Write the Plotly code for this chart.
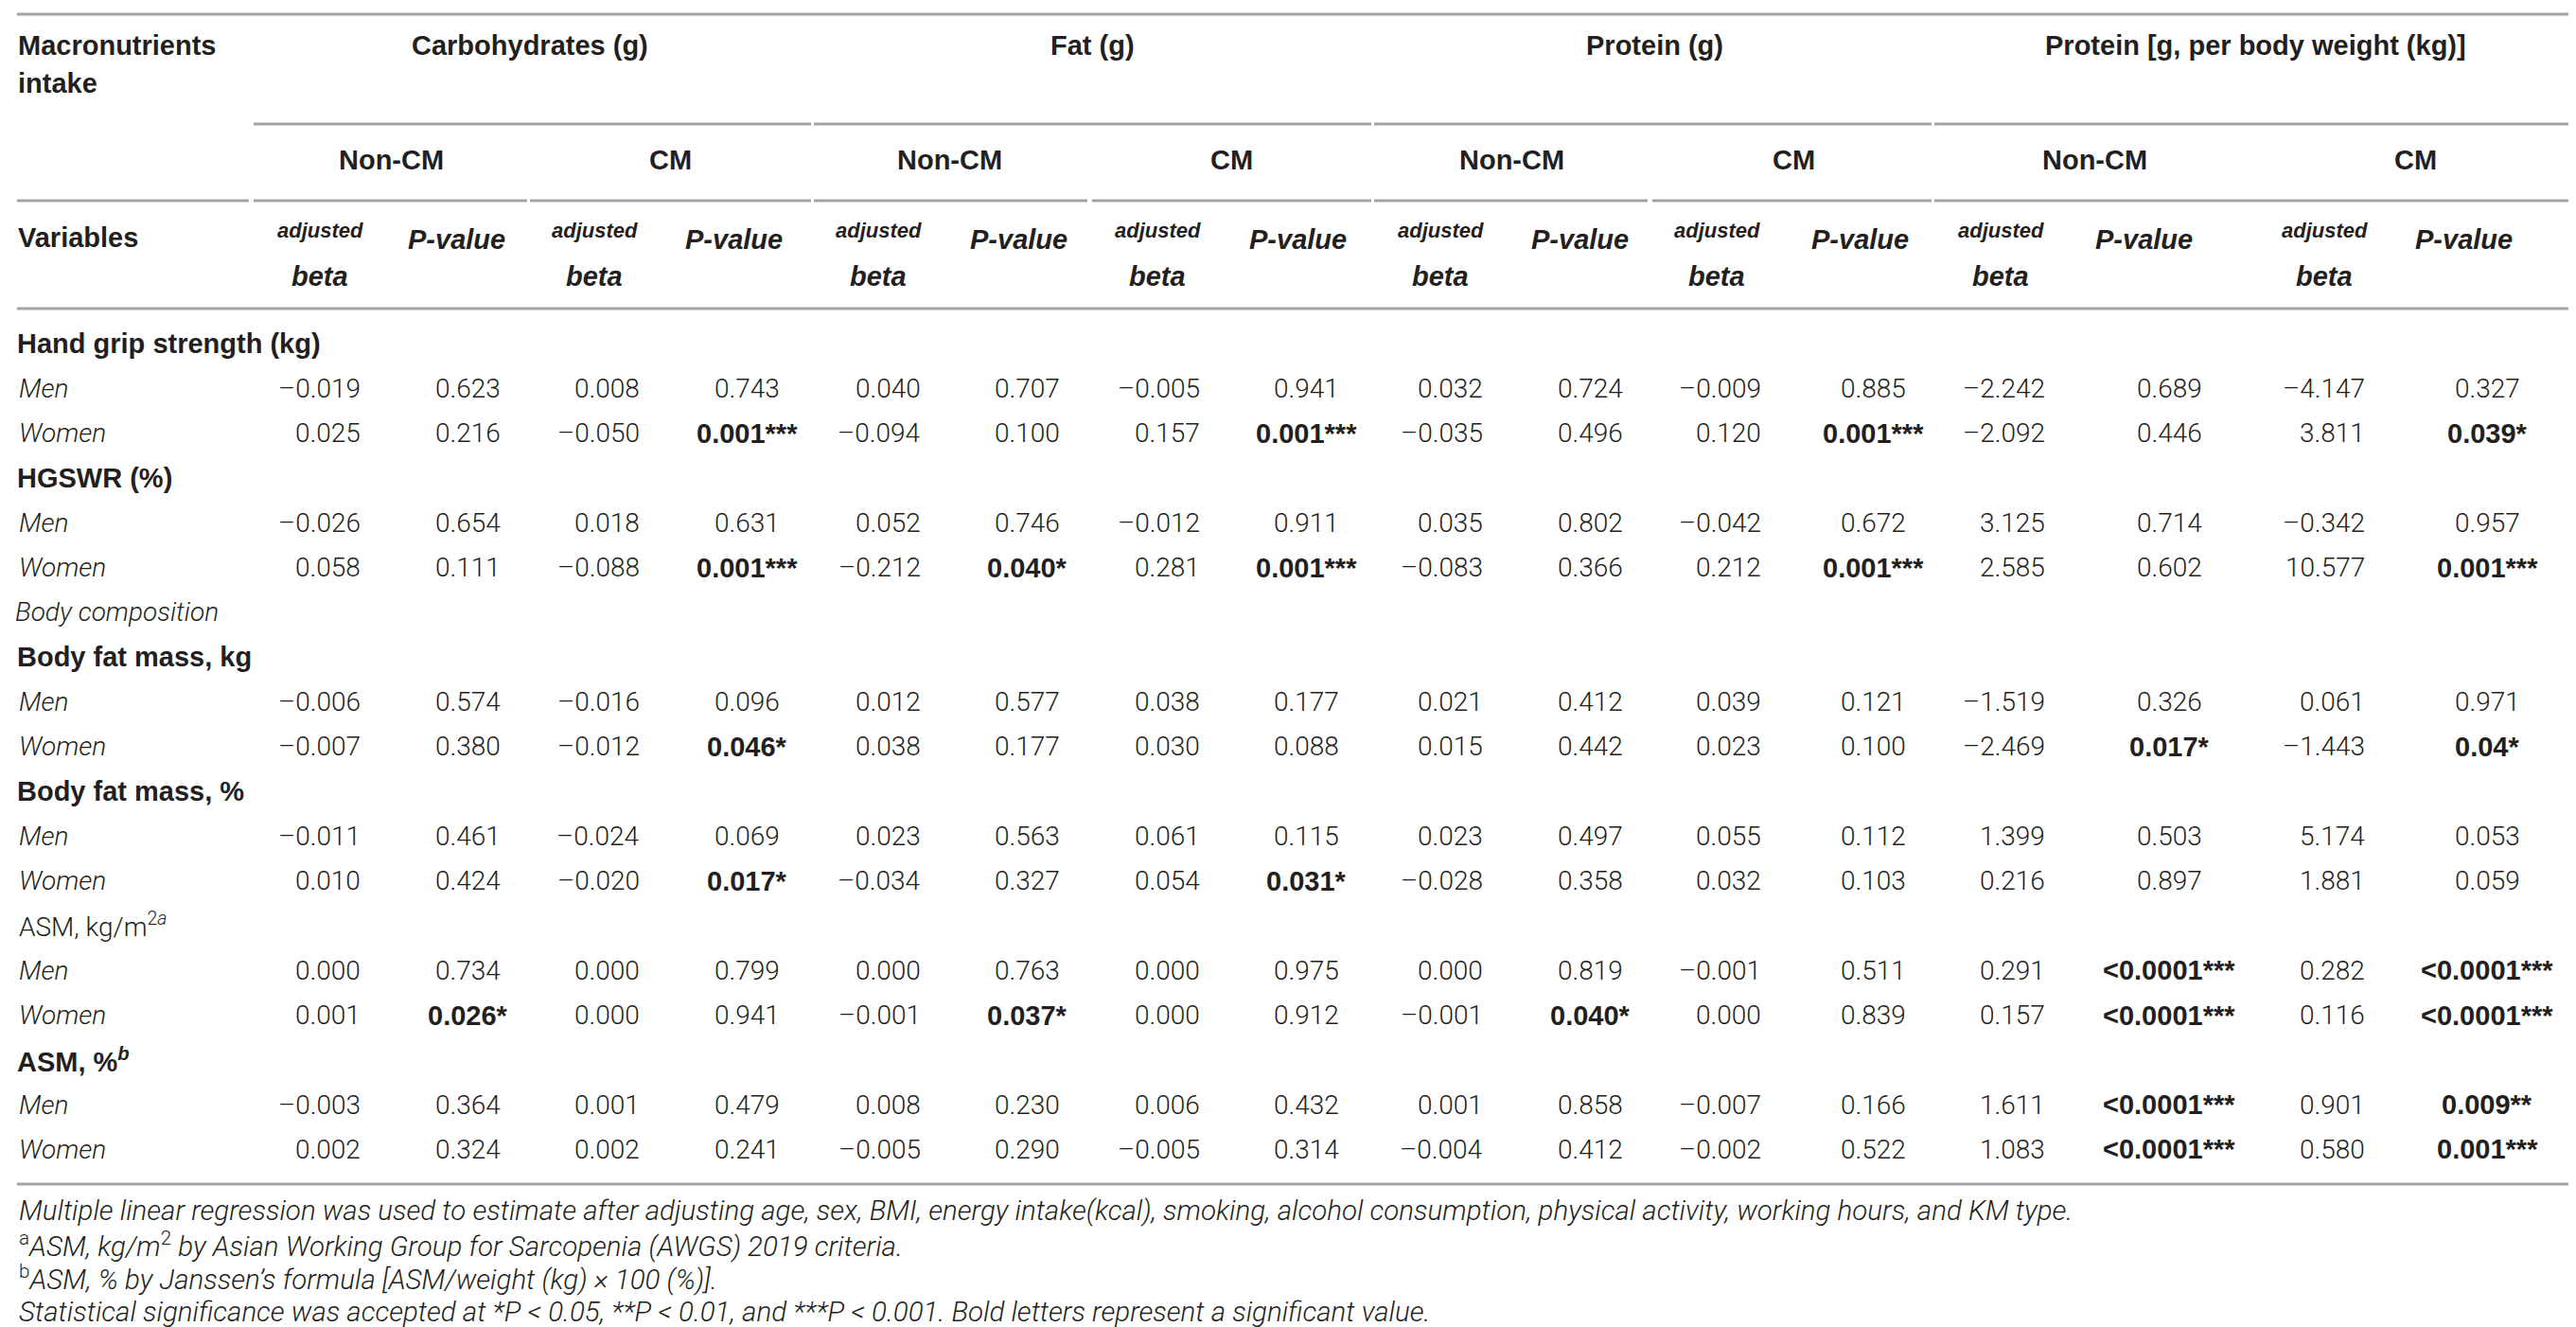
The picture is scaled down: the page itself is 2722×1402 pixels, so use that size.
import plotly.graph_objects as go

# ---- table content ----
nutrients = ["Carbohydrates (g)", "Fat (g)", "Protein (g)", "Protein [g, per body weight (kg)]"]
groups = ["Non-CM", "CM"]
stat_cols = ["adjusted<br>beta", "P-value"]

# each row: beta, p for Carb NonCM, Carb CM, Fat NonCM, Fat CM, Prot NonCM, Prot CM, Prot/bw NonCM, Prot/bw CM
hgs_men = ["–0.019", "0.623", "0.008", "0.743", "0.040", "0.707", "–0.005", "0.941",
           "0.032", "0.724", "–0.009", "0.885", "–2.242", "0.689", "–4.147", "0.327"]
hgs_women = ["0.025", "0.216", "–0.050", "0.001***", "–0.094", "0.100", "0.157", "0.001***",
             "–0.035", "0.496", "0.120", "0.001***", "–2.092", "0.446", "3.811", "0.039*"]
hgswr_men = ["–0.026", "0.654", "0.018", "0.631", "0.052", "0.746", "–0.012", "0.911",
             "0.035", "0.802", "–0.042", "0.672", "3.125", "0.714", "–0.342", "0.957"]
hgswr_women = ["0.058", "0.111", "–0.088", "0.001***", "–0.212", "0.040*", "0.281", "0.001***",
               "–0.083", "0.366", "0.212", "0.001***", "2.585", "0.602", "10.577", "0.001***"]
bfm_kg_men = ["–0.006", "0.574", "–0.016", "0.096", "0.012", "0.577", "0.038", "0.177",
              "0.021", "0.412", "0.039", "0.121", "–1.519", "0.326", "0.061", "0.971"]
bfm_kg_women = ["–0.007", "0.380", "–0.012", "0.046*", "0.038", "0.177", "0.030", "0.088",
                "0.015", "0.442", "0.023", "0.100", "–2.469", "0.017*", "–1.443", "0.04*"]
bfm_pct_men = ["–0.011", "0.461", "–0.024", "0.069", "0.023", "0.563", "0.061", "0.115",
               "0.023", "0.497", "0.055", "0.112", "1.399", "0.503", "5.174", "0.053"]
bfm_pct_women = ["0.010", "0.424", "–0.020", "0.017*", "–0.034", "0.327", "0.054", "0.031*",
                 "–0.028", "0.358", "0.032", "0.103", "0.216", "0.897", "1.881", "0.059"]
asm_kg_men = ["0.000", "0.734", "0.000", "0.799", "0.000", "0.763", "0.000", "0.975",
              "0.000", "0.819", "–0.001", "0.511", "0.291", "<0.0001***", "0.282", "<0.0001***"]
asm_kg_women = ["0.001", "0.026*", "0.000", "0.941", "–0.001", "0.037*", "0.000", "0.912",
                "–0.001", "0.040*", "0.000", "0.839", "0.157", "<0.0001***", "0.116", "<0.0001***"]
asm_pct_men = ["–0.003", "0.364", "0.001", "0.479", "0.008", "0.230", "0.006", "0.432",
               "0.001", "0.858", "–0.007", "0.166", "1.611", "<0.0001***", "0.901", "0.009**"]
asm_pct_women = ["0.002", "0.324", "0.002", "0.241", "–0.005", "0.290", "–0.005", "0.314",
                 "–0.004", "0.412", "–0.002", "0.522", "1.083", "<0.0001***", "0.580", "0.001***"]

# (label, style) then the data rows under it
rows = [
    ("Hand grip strength (kg)", "bold"),
    ("Men", hgs_men), ("Women", hgs_women),
    ("HGSWR (%)", "bold"),
    ("Men", hgswr_men), ("Women", hgswr_women),
    ("Body composition", "italic"),
    ("Body fat mass, kg", "bold"),
    ("Men", bfm_kg_men), ("Women", bfm_kg_women),
    ("Body fat mass, %", "bold"),
    ("Men", bfm_pct_men), ("Women", bfm_pct_women),
    ("ASM, kg/m<sup>2<i>a</i></sup>", "light"),
    ("Men", asm_kg_men), ("Women", asm_kg_women),
    ("ASM, %<sup><i>b</i></sup>", "bold"),
    ("Men", asm_pct_men), ("Women", asm_pct_women),
]

footnotes = [
    "Multiple linear regression was used to estimate after adjusting age, sex, BMI, energy intake(kcal), "
    "smoking, alcohol consumption, physical activity, working hours, and KM type.",
    "<sup>a</sup><i>ASM, kg/m</i><sup>2</sup><i> by Asian Working Group for Sarcopenia (AWGS) 2019 criteria.</i>",
    "<sup>b</sup><i>ASM, % by Janssen’s formula [ASM/weight (kg) × 100 (%)].</i>",
    "Statistical significance was accepted at *P < 0.05, **P < 0.01, and ***P < 0.001. "
    "Bold letters represent a significant value.",
]

# ---- layout (pixels) ----
W, H = 2722, 1402
INK = "#231f20"
RULE = "#a3a3a3"
LIGHT = "Roboto"
HEAVY = "Liberation Sans"
FS = 28      # light body text
FB = 29      # bold text
FN = 29.5    # footnotes

beta_right = [375, 670, 967, 1262, 1561, 1855, 2155, 2493]
p_center = [486, 781, 1077, 1372, 1672, 1971, 2284, 2620]
beta_head = [330, 620, 920, 1215, 1514, 1806, 2106, 2448]
p_head = [474, 767, 1068, 1363, 1661, 1957, 2257, 2595]
group_center = [405, 700, 995, 1293, 1589, 1887, 2205, 2544]
nutrient_center = [552, 1146, 1740, 2375]
row_y0, row_dy = 355, 47.3

fig = go.Figure()
ann = []


def txt(x, y, s, size=FS, family=LIGHT, weight=300, style="normal", xanchor="left"):
    ann.append(dict(x=x, y=y, xref="x", yref="y", text=s, showarrow=False,
                    xanchor=xanchor, yanchor="middle",
                    font=dict(family=family, size=size, color=INK, weight=weight, style=style)))


# header
txt(9, 40, "Macronutrients", size=FB, family=HEAVY, weight=700)
txt(9, 80, "intake", size=FB, family=HEAVY, weight=700)
for xc, name in zip(nutrient_center, nutrients):
    txt(xc, 40, name, size=FB, family=HEAVY, weight=700, xanchor="center")
for i, xc in enumerate(group_center):
    txt(xc, 161, groups[i % 2], size=FB, family=HEAVY, weight=700, xanchor="center")
txt(9, 243, "Variables", size=FB, family=HEAVY, weight=700)
adj, beta_word = stat_cols[0].split("<br>")
for xb, xp in zip(beta_head, p_head):
    txt(xb, 235, adj, size=22, family=HEAVY, weight=700, style="italic", xanchor="center")
    txt(xb, 284, beta_word, size=FB, family=HEAVY, weight=700, style="italic", xanchor="center")
    txt(xp, 245, stat_cols[1], size=FB, family=HEAVY, weight=700, style="italic", xanchor="center")

# body
for r, (label, content) in enumerate(rows):
    y = row_y0 + r * row_dy
    if isinstance(content, str):
        if content == "bold":
            txt(8, y, label, size=FB, family=HEAVY, weight=700)
        elif content == "italic":
            txt(6, y, label, style="italic")
        else:
            txt(10, y, label)
        continue
    txt(10, y, label, style="italic")
    for c in range(8):
        beta, p = content[2 * c], content[2 * c + 1]
        txt(beta_right[c], y, beta, xanchor="right")
        if "*" in p:
            txt(p_center[c], y, p, size=FB, family=HEAVY, weight=700, xanchor="center")
        else:
            txt(p_center[c], y, p, xanchor="center")

# footnotes
for k, note in enumerate(footnotes):
    txt(10, 1271 + k * 35.5, note, size=FN, style="normal" if "<i>" in note else "italic")

# rules
shapes = []


def rule(x0, x1, y, w=2):
    shapes.append(dict(type="line", xref="x", yref="y", x0=x0, x1=x1, y0=y, y1=y,
                       line=dict(color=RULE, width=w)))


rule(10, 2712, 7, 3)
for x0, x1 in [(260, 849), (852, 1441), (1444, 2033), (2036, 2712)]:
    rule(x0, x1, 123, 3)
for x0, x1 in [(10, 255), (260, 549), (552, 849), (852, 1141), (1146, 1441),
               (1444, 1733), (1738, 2033), (2036, 2375), (2375, 2712)]:
    rule(x0, x1, 204, 3)
rule(10, 2712, 318, 3)
rule(10, 2712, 1243, 3)

fig.update_layout(
    width=W, height=H, margin=dict(l=0, r=0, t=0, b=0),
    paper_bgcolor="white", plot_bgcolor="white",
    xaxis=dict(range=[0, W], visible=False, fixedrange=True),
    yaxis=dict(range=[H, 0], visible=False, fixedrange=True),
    annotations=ann, shapes=shapes, showlegend=False,
)

fig.write_html("out.html")
